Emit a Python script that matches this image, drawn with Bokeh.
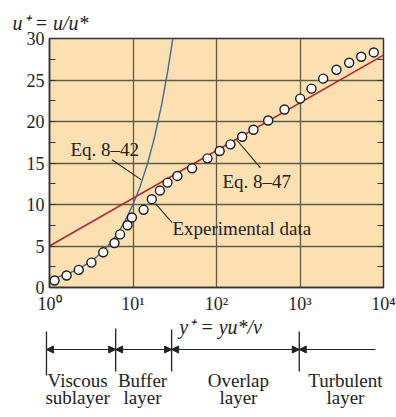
from bokeh.plotting import figure
from bokeh.models import (Range1d, FixedTicker, SingleIntervalTicker, LinearAxis,
                          Label, Arrow, NormalHead)
from bokeh.layouts import column
from bokeh.core.properties import value
from bokeh.embed import file_html
from bokeh.resources import INLINE

# Experimental velocity profile in wall units
exp_yplus = [1.15, 1.6, 2.24, 3.18, 4.4, 6.0, 7.0, 8.6, 9.7, 13.4, 16.8, 21, 25.9,
             34, 51, 78, 109, 147, 203, 277, 416, 652, 1005, 1373, 1896, 2735,
             3880, 5410, 7650]
exp_uplus = [0.84, 1.44, 2.12, 3.0, 4.24, 5.36, 6.4, 7.5, 8.44, 9.36, 10.64, 11.68,
             12.64, 13.44, 14.36, 15.56, 16.44, 17.24, 18.16, 19.0, 20.12, 21.44,
             22.76, 23.96, 25.16, 26.24, 27.08, 27.8, 28.32]

# Eq. 8-42: viscous sublayer, u+ = y+
visc_yplus = [1, 1.5, 2, 3, 4, 5, 6, 7, 8, 10, 12, 15, 18, 22, 26, 30]
visc_uplus = [1, 1.5, 2, 3, 4, 5, 6, 7, 8, 10, 12, 15, 18, 22, 26, 30]

# Eq. 8-47: log law, straight on a log y+ axis
loglaw_yplus = [1, 10000]
loglaw_uplus = [5.0, 28.0]

x_ticks = [1, 10, 100, 1000, 10000]
x_tick_labels = ["10\u2070", "10\u00b9", "10\u00b2", "10\u00b3", "10\u2074"]

# Layer boundaries along y+ for the region diagram
layer_bounds = [0.92, 6.2, 29, 980]
layer_end = 8000
layer_names_1 = ["Viscous", "Buffer", "Overlap", "Turbulent"]
layer_names_2 = ["sublayer", "layer", "layer", "layer"]
layer_label_x = [2.17, 13.0, 183, 3500]

SERIF = "Liberation Serif"
INK = "#222222"
GRID = "#5c5c48"

FRAME_L, FRAME_R, W = 49, 13, 396

p = figure(width=W, height=316, x_axis_type="log",
           x_range=Range1d(1, 10000), y_range=Range1d(0, 30),
           output_backend="svg", toolbar_location=None,
           min_border_left=FRAME_L, min_border_right=FRAME_R,
           min_border_top=38, min_border_bottom=28)
p.frame_align = False
p.background_fill_color = "#fce0b2"
p.border_fill_color = "white"
p.outline_line_color = "#333333"
p.outline_line_width = 1.5

# Quantity on the vertical axis, written above its top end
p.title.text = "u\u207a = u/u*"
p.title.align = "left"
p.title.offset = -37
p.title.text_font = SERIF
p.title.text_font_size = "20px"
p.title.text_font_style = "italic"
p.title.text_color = INK
p.title.standoff = 9

p.xgrid.ticker = FixedTicker(ticks=x_ticks)
p.ygrid.ticker = SingleIntervalTicker(interval=5)
p.grid.grid_line_color = GRID
p.grid.grid_line_width = 1.3

p.xaxis.ticker = FixedTicker(ticks=x_ticks, minor_ticks=[])
p.xaxis.major_label_overrides = dict(zip(x_ticks, x_tick_labels))
p.yaxis.ticker = SingleIntervalTicker(interval=5, num_minor_ticks=2)
for ax in (p.xaxis, p.yaxis):
    ax.major_tick_in = 0
    ax.major_tick_out = 0
    ax.minor_tick_out = 0
    ax.axis_line_color = "#333333"
    ax.axis_line_width = 1.5
    ax.major_label_text_font = SERIF
    ax.major_label_text_font_size = "18px"
    ax.major_label_text_color = INK
p.yaxis.minor_tick_in = 6
p.yaxis.minor_tick_line_color = "#333333"
p.yaxis.major_label_standoff = 5
p.xaxis.major_label_standoff = 6

right = LinearAxis(ticker=SingleIntervalTicker(interval=5, num_minor_ticks=2),
                   major_label_overrides={v: "" for v in range(0, 35, 5)},
                   major_tick_in=0, major_tick_out=0,
                   minor_tick_in=6, minor_tick_out=0,
                   minor_tick_line_color="#333333",
                   axis_line_color="#333333", major_label_standoff=0)
p.add_layout(right, "right")

p.line(loglaw_yplus, loglaw_uplus, line_color="#b3262b", line_width=1.6)
p.line(visc_yplus, visc_uplus, line_color="#3a6a9a", line_width=1.4)
p.scatter(exp_yplus, exp_uplus, marker="circle", size=9,
          fill_color="white", line_color="#1a1a1a", line_width=1.4)

# Leader lines from the curve labels
p.segment(x0=[5.6, 336, 18.6], y0=[15.4, 14.4, 10.1],
          x1=[12.5, 174, 29.5], y1=[13.0, 17.8, 7.8],
          line_color=INK, line_width=1.1)

for txt, x, y in [("Eq. 8\u201342", 1.78, 16.6),
                  ("Eq. 8\u201347", 118, 12.8),
                  ("Experimental data", 29.7, 7.1)]:
    p.add_layout(Label(x=x, y=y, text=txt, text_font=SERIF, text_font_size="19px",
                       text_color=INK, text_baseline="middle", text_align="left"))

# Region diagram below the axis, on the same log scale as the main frame
decade = (W - FRAME_L - FRAME_R) / 4
q = figure(width=W, height=101, x_axis_type="log",
           x_range=Range1d(10 ** (-FRAME_L / decade), 10 ** (4 + FRAME_R / decade)),
           y_range=Range1d(0, 101),
           x_axis_location=None, y_axis_location=None,
           output_backend="svg", toolbar_location=None,
           min_border_left=0, min_border_right=0, min_border_top=0, min_border_bottom=0)
q.frame_align = False
q.outline_line_color = None
q.grid.visible = False
q.background_fill_color = "white"

q.text(x=[112], y=[91], text=["y\u207a = yu*/\u03bd"], text_font=value(SERIF),
       text_font_size="20px", text_font_style="italic", text_align="center",
       text_baseline="middle", text_color=INK)

q.segment(x0=layer_bounds, y0=[42, 46, 46, 46], x1=layer_bounds, y1=[86, 89, 88, 86],
          line_color=INK, line_width=1.3)

for a, b in zip(layer_bounds[:-1], layer_bounds[1:]):
    q.add_layout(Arrow(x_start=a, y_start=68, x_end=b, y_end=68, line_width=1.2,
                       line_color=INK,
                       start=NormalHead(size=7, fill_color=INK, line_color=INK),
                       end=NormalHead(size=7, fill_color=INK, line_color=INK)))
q.add_layout(Arrow(x_start=layer_bounds[-1], y_start=68, x_end=layer_end, y_end=68,
                   line_width=1.2, line_color=INK,
                   start=NormalHead(size=7, fill_color=INK, line_color=INK), end=None))

q.text(x=layer_label_x, y=[37] * 4, text=layer_names_1, text_font=value(SERIF),
       text_font_size="19px", text_align="center", text_baseline="middle",
       text_color=INK)
q.text(x=layer_label_x, y=[20] * 4, text=layer_names_2, text_font=value(SERIF),
       text_font_size="19px", text_align="center", text_baseline="middle",
       text_color=INK)

layout = column(p, q, spacing=0)
open("out.html", "w").write(file_html(layout, INLINE))
